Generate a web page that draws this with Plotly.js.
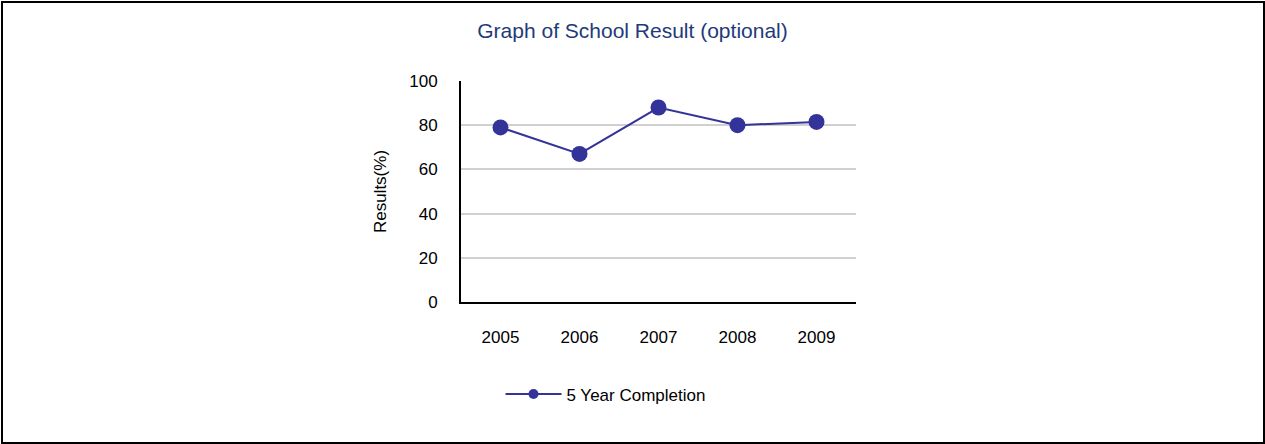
<!DOCTYPE html>
<html><head><meta charset="utf-8">
<script src="https://cdn.plot.ly/plotly-3.0.1.min.js"></script>
<style>
html,body{margin:0;padding:0;background:#fff;}
#wrap{position:relative;width:1265px;height:444px;}
#chart{width:1265px;height:444px;}
#frame{position:absolute;left:1px;top:1px;width:1264px;height:443px;box-sizing:border-box;border:2px solid #000;pointer-events:none;}
</style></head>
<body>
<div id="wrap"><div id="chart"></div><div id="frame"></div></div>
<script>
const years = ['2005','2006','2007','2008','2009'];
const completion = [79, 67, 88, 80, 81.5];
const seriesName = '5 Year Completion';
const yTicks = [0, 20, 40, 60, 80, 100];

const color = '#333399';
const trace = {
  x: years, y: completion, name: seriesName, type: 'scatter', mode: 'lines+markers',
  line: {color: color, width: 2},
  marker: {color: color, size: 16},
  showlegend: false
};
const legendTrace = {
  x: [null], y: [null], name: seriesName, type: 'scatter', mode: 'lines+markers',
  line: {color: color, width: 2},
  marker: {color: color, size: 10},
  showlegend: true
};
const layout = {
  width: 1265, height: 444,
  margin: {l: 461, r: 409, t: 81, b: 142},
  paper_bgcolor: '#fff', plot_bgcolor: '#fff',
  font: {family: 'Liberation Sans, Arial, sans-serif', size: 17, color: '#000'},
  title: {text: 'Graph of School Result (optional)', x: 0.5, xref: 'container', y: 0.93, yref: 'container', yanchor: 'middle',
          font: {size: 21, color: '#1F3A7A', family: 'Liberation Sans, Arial, sans-serif'}},
  xaxis: {type: 'category', range: [-0.5, 4.5], showgrid: false, zeroline: false,
          showline: true, linecolor: '#000', linewidth: 2, ticks: '', ticklabelstandoff: 19,
          tickfont: {size: 17}},
  yaxis: {range: [0, 100], tickvals: yTicks, showgrid: true, gridcolor: '#d0d0d0', gridwidth: 2,
          zeroline: false, showline: true, linecolor: '#000', linewidth: 2, ticks: '', ticklabelstandoff: 18,
          tickfont: {size: 17},
          title: {text: 'Results(%)', font: {size: 17}, standoff: 18}},
  showlegend: true,
  legend: {orientation: 'h', x: 0.1, xanchor: 'left', y: -0.418, yanchor: 'middle', itemwidth: 56,
           font: {size: 17}, bgcolor: 'rgba(0,0,0,0)'}
};
Plotly.newPlot('chart', [trace, legendTrace], layout, {displayModeBar: false, staticPlot: true});
</script>
</body></html>
